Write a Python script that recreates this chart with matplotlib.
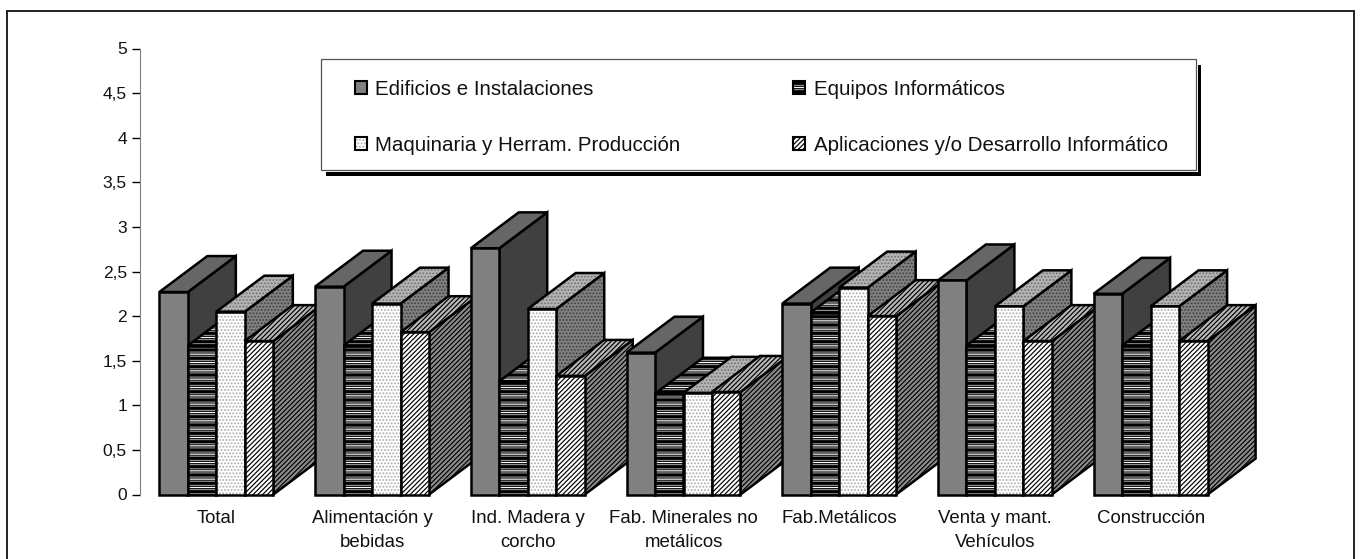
import matplotlib
matplotlib.use("Agg")
import matplotlib.pyplot as plt
from matplotlib.legend_handler import HandlerTuple
from matplotlib.lines import Line2D
from matplotlib.patches import Patch, Rectangle

plt.rcParams['font.family'] = ['Liberation Sans', 'DejaVu Sans']
plt.rcParams['hatch.linewidth'] = 0.85

# Data
categories = ["Total", "Alimentación y\nbebidas", "Ind. Madera y\ncorcho",
              "Fab. Minerales no\nmetálicos", "Fab.Metálicos",
              "Venta y mant.\nVehículos", "Construcción"]
series_names = ["Edificios e Instalaciones", "Equipos Informáticos",
                "Maquinaria y Herram. Producción",
                "Aplicaciones y/o Desarrollo Informático"]
edificios = [2.27, 2.33, 2.76, 1.59, 2.14, 2.40, 2.25]
equipos = [1.67, 1.67, 1.27, 1.13, 2.04, 1.67, 1.67]
maquinaria = [2.05, 2.14, 2.08, 1.14, 2.32, 2.11, 2.11]
aplicaciones = [1.72, 1.82, 1.33, 1.15, 2.00, 1.72, 1.72]
y_ticks = [0, 0.5, 1, 1.5, 2, 2.5, 3, 3.5, 4, 4.5, 5]
y_labels = ["0", "0,5", "1", "1,5", "2", "2,5", "3", "3,5", "4", "4,5", "5"]

W, H = 1360, 559
BAR_W = 0.183
DEPTH_X = 0.308
DEPTH_Y = 0.403

# (face colour, [(hatch colour, hatch), ...]) for front, top and side of each series
styles = [
    {"front": ("#808080", []), "top": ("#666666", []), "side": ("#404040", [])},
    {"front": ("#000000", [("#909090", "----"), ("#ffffff", "--")]),
     "top": ("#000000", [("#909090", "----"), ("#ffffff", "--")]),
     "side": ("#303030", [("#808080", "----")])},
    {"front": ("#ffffff", [("#a8a8a8", ".....")]),
     "top": ("#b4b4b4", [("#707070", ".....")]),
     "side": ("#808080", [("#404040", ".....")])},
    {"front": ("#ffffff", [("#000000", "///////")]),
     "top": ("#b8b8b8", [("#000000", "///////")]),
     "side": ("#8c8c8c", [("#000000", "///////")])},
]


def px(x, y):
    # pixel position of the reference -> figure fraction
    return x / W, 1 - y / H


def face(ax, xs, ys, style, z):
    color, layers = style
    ax.fill(xs, ys, facecolor=color, edgecolor="none", linewidth=0, clip_on=False, zorder=z)
    for hatch_color, hatch in layers:
        ax.fill(xs, ys, facecolor="none", edgecolor=hatch_color, hatch=hatch,
                linewidth=0, clip_on=False, zorder=z)
    ax.fill(xs, ys, fill=False, edgecolor="black", linewidth=1.8, clip_on=False,
            joinstyle="miter", zorder=z)


fig = plt.figure(figsize=(13.6, 5.59), dpi=100)
ax = fig.add_axes([138.5 / W, 1 - 494.5 / H, 1090 / W, 446 / H])

# set_position resets the ticks, so it has to come before the tick setup
for name in ["top", "right", "bottom"]:
    ax.spines[name].set_visible(False)
ax.spines["left"].set_color("#808080")
ax.spines["left"].set_position(("outward", -1))

z = 3
values = [edificios, equipos, maquinaria, aplicaciones]
for i in range(len(categories)):
    for j, series in enumerate(values):
        v = series[i]
        x0 = i - 2 * BAR_W + j * BAR_W
        x1 = x0 + BAR_W
        face(ax, [x1, x1 + DEPTH_X, x1 + DEPTH_X, x1],
             [0, DEPTH_Y, v + DEPTH_Y, v], styles[j]["side"], z)
        face(ax, [x0, x1, x1 + DEPTH_X, x0 + DEPTH_X],
             [v, v, v + DEPTH_Y, v + DEPTH_Y], styles[j]["top"], z)
        face(ax, [x0, x1, x1, x0], [0, 0, v, v], styles[j]["front"], z)
        z += 1

ax.set_xlim(-0.5, 6.5)
ax.set_ylim(0, 5)
ax.set_xticks(range(len(categories)))
ax.set_xticklabels(categories, fontsize=13.4, linespacing=1.55, color="#111111")
ax.set_yticks(y_ticks)
ax.set_yticklabels(y_labels, fontsize=12.5, color="#111111")
ax.tick_params(axis="x", length=0, pad=11)
ax.tick_params(axis="y", length=5.8, width=1, pad=3.5)

# Outer frame, its bottom edge falls outside the image
for a, b in [((7, 575), (7, 11)), ((7, 11), (1354, 11)), ((1354, 11), (1354, 575))]:
    p0, p1 = px(*a), px(*b)
    fig.add_artist(Line2D([p0[0], p1[0]], [p0[1], p1[1]], color="#222222", linewidth=1.4))

# Legend box with its hard shadow, a thin white gap sits between the two
fig.add_artist(Rectangle(px(326, 176), 875 / W, 111 / H, transform=fig.transFigure,
                         facecolor="black", edgecolor="none", zorder=20))
fig.add_artist(Rectangle(px(321, 172), 877 / W, 113 / H, transform=fig.transFigure,
                         facecolor="white", edgecolor="none", zorder=21))
fig.add_artist(Rectangle(px(321, 169.5), 875 / W, 110.5 / H, transform=fig.transFigure,
                         facecolor="white", edgecolor="#555555", linewidth=0.9, zorder=21))

handles = []
for j in range(len(series_names)):
    color, layers = styles[j]["front"]
    parts = [Patch(facecolor=color, edgecolor="none", linewidth=0)]
    for hatch_color, hatch in layers:
        parts.append(Patch(facecolor="none", edgecolor=hatch_color, hatch=hatch, linewidth=0))
    parts.append(Patch(facecolor="none", edgecolor="black", linewidth=1.5))
    handles.append(tuple(parts))
order = [0, 2, 1, 3]
leg = fig.legend([handles[k] for k in order], [series_names[k] for k in order],
                 handler_map={tuple: HandlerTuple(ndivide=1, pad=0)},
                 ncol=2, loc="upper left", bbox_to_anchor=px(355, 80), frameon=False,
                 fontsize=14.8, borderpad=0, borderaxespad=0, handlelength=0.56,
                 handleheight=0.56, handletextpad=0.42, labelspacing=1.8,
                 columnspacing=5.5, labelcolor="#111111")
leg.set_zorder(22)

fig.savefig("out.png", dpi=100)
